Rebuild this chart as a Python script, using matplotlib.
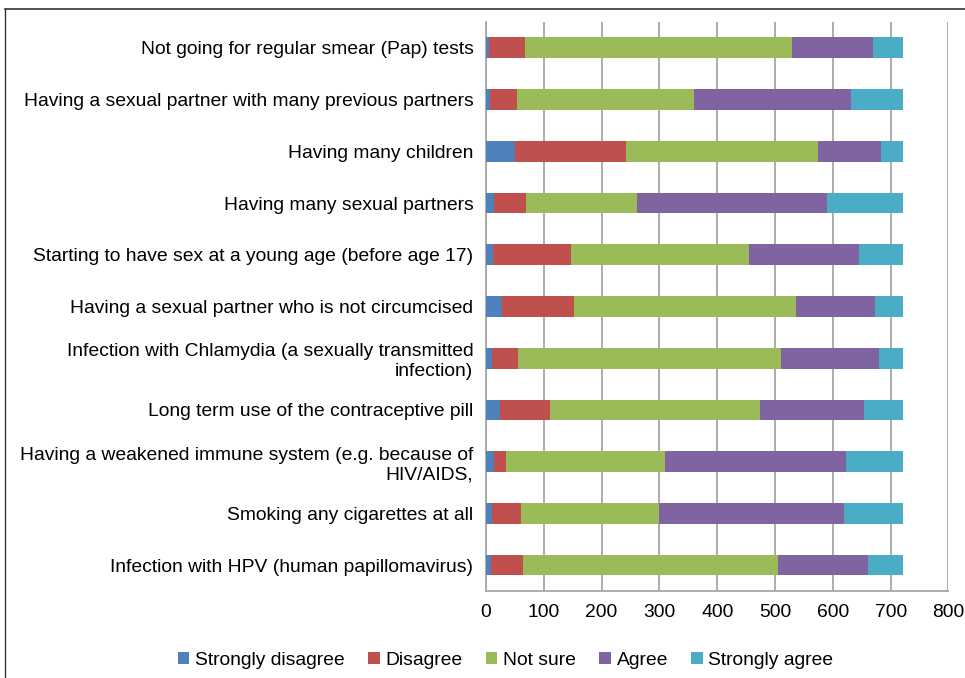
import matplotlib.pyplot as plt
import numpy as np
from matplotlib.lines import Line2D

plt.rcParams['font.family'] = ['Liberation Sans', 'DejaVu Sans']

categories = [
    'Not going for regular smear (Pap) tests',
    'Having a sexual partner with many previous partners',
    'Having many children',
    'Having many sexual partners',
    'Starting to have sex at a young age (before age 17)',
    'Having a sexual partner who is not circumcised',
    'Infection with Chlamydia (a sexually transmitted\ninfection)',
    'Long term use of the contraceptive pill',
    'Having a weakened immune system (e.g. because of\nHIV/AIDS,',
    'Smoking any cigarettes at all',
    'Infection with HPV (human papillomavirus)',
]

strongly_disagree = [6, 7, 50, 14, 13, 27, 10, 24, 14, 10, 9]
disagree = [62, 47, 192, 55, 134, 125, 46, 87, 21, 51, 55]
not_sure = [462, 306, 332, 192, 308, 384, 455, 363, 275, 239, 441]
agree = [140, 272, 109, 329, 190, 137, 168, 180, 313, 320, 156]
strongly_agree = [52, 90, 38, 131, 76, 48, 43, 68, 99, 102, 61]

series = [
    ('Strongly disagree', strongly_disagree, '#4F81BD'),
    ('Disagree', disagree, '#C0504D'),
    ('Not sure', not_sure, '#9BBB59'),
    ('Agree', agree, '#8064A2'),
    ('Strongly agree', strongly_agree, '#4BACC6'),
]


def main():
    fig = plt.figure(figsize=(9.65, 6.78), dpi=100)
    ax = fig.add_axes([0.5036, 0.1283, 0.4793, 0.8393])

    y = np.arange(len(categories))
    left = np.zeros(len(categories))
    for name, vals, color in series:
        vals = np.array(vals, dtype=float)
        ax.barh(y, vals, left=left, height=0.4, color=color, label=name,
                zorder=3)
        left += vals

    ax.set_ylim(len(categories) - 0.5, -0.5)
    ax.set_xlim(0, 800)
    ax.set_xticks(np.arange(0, 801, 100))
    ax.set_yticks(y)
    ax.set_yticklabels(categories, ha='right', fontsize=13.9,
                       linespacing=1.2)
    ax.tick_params(axis='x', labelsize=13.9, length=0, pad=9)
    ax.tick_params(axis='y', length=0, pad=9)
    ax.grid(axis='x', color='#a6a6a6', linewidth=1.3, zorder=0)
    for s in ['top', 'right']:
        ax.spines[s].set_visible(False)
    for s in ['left', 'bottom']:
        ax.spines[s].set_color('#a6a6a6')
        ax.spines[s].set_linewidth(1.3)

    handles, labels = ax.get_legend_handles_labels()
    fig.legend(handles, labels, loc='center', bbox_to_anchor=(0.524, 0.026),
               ncol=5, frameon=False, fontsize=13.9, handlelength=0.6,
               handleheight=0.6, handletextpad=0.3, columnspacing=1.2)

    # outer frame lines (top and left)
    fig.add_artist(Line2D([5 / 965, 1], [1 - 9 / 678, 1 - 9 / 678],
                          transform=fig.transFigure, color='#333333', lw=1.2))
    fig.add_artist(Line2D([5 / 965, 5 / 965], [0, 1 - 9 / 678],
                          transform=fig.transFigure, color='#333333', lw=1.0))

    fig.savefig('out.png', dpi=100)


if __name__ == '__main__':
    main()
